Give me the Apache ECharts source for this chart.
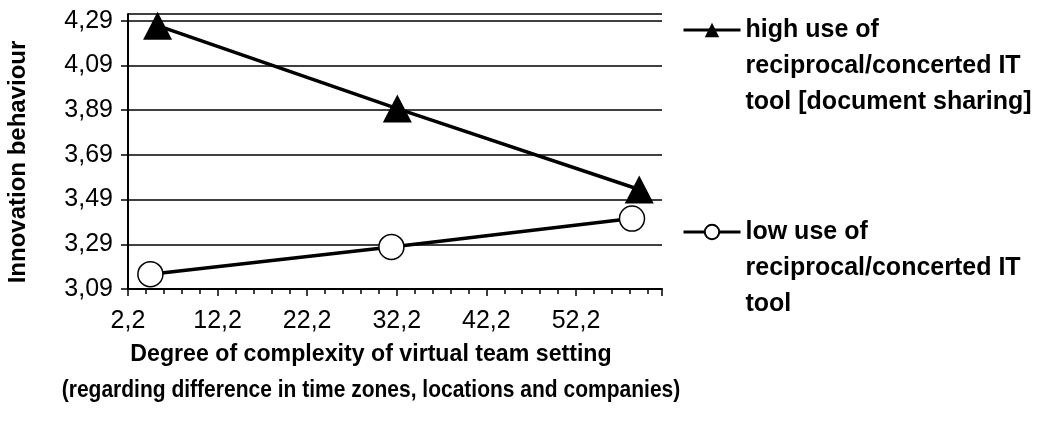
<!DOCTYPE html>
<html><head><meta charset="utf-8">
<script src="https://cdn.jsdelivr.net/npm/echarts@6/dist/echarts.min.js"></script>
<style>html,body{margin:0;padding:0;background:#fff}#c{width:1040px;height:421px}</style>
</head><body><div id="c"></div>
<script>
// data
const highX = [5.5, 32.26, 59.26];
const highY = [4.268, 3.897, 3.535];
const lowX = [4.7, 31.6, 58.45];
const lowY = [3.156, 3.278, 3.405];
const yTicks = [3.09, 3.29, 3.49, 3.69, 3.89, 4.09, 4.29];
const xTicks = [2.2, 12.2, 22.2, 32.2, 42.2, 52.2];
const seriesNames = ['high use of\nreciprocal/concerted IT\ntool [document sharing]',
                     'low use of\nreciprocal/concerted IT\ntool'];
const yTitle = 'Innovation behaviour';
const xTitle1 = 'Degree of complexity of virtual team setting';
const xTitle2 = '(regarding difference in time zones, locations and companies)';

const FONT = '"Liberation Sans", Arial, Helvetica, sans-serif';
const near = (v, arr) => arr.some(t => Math.abs(t - v) < 1e-6);
const fmt = (v, d) => v.toFixed(d).replace('.', ',');

const chart = echarts.init(document.getElementById('c'), null, {renderer: 'canvas'});
chart.setOption({
  animation: false,
  backgroundColor: '#fff',
  textStyle: {fontFamily: FONT, color: '#000'},
  grid: {left: 128, right: 378, top: 14, bottom: 132, containLabel: false, outerBoundsMode: 'none'},
  xAxis: {
    type: 'value', min: 2.2, max: 61.8, interval: 10,
    axisLine: {lineStyle: {color: '#000', width: 2}},
    axisTick: {show: true, length: 7, lineStyle: {color: '#000', width: 1.5}},
    minorTick: {show: true, splitNumber: 5, length: 5, lineStyle: {color: '#000', width: 1.5}},
    splitLine: {show: false},
    axisLabel: {
      margin: 20, fontSize: 25, color: '#000', fontFamily: FONT,
      formatter: v => near(v, xTicks) ? fmt(v, 1) : ''
    }
  },
  yAxis: [{
    type: 'value', min: 3.09, max: 4.32, interval: 0.2, position: 'left',
    axisLine: {show: true, lineStyle: {color: '#000', width: 2}},
    axisTick: {show: false},
    splitLine: {show: true, lineStyle: {color: '#000', width: 1.5}},
    axisLabel: {
      margin: 15, fontSize: 25, color: '#000', fontFamily: FONT,
      formatter: v => near(v, yTicks) ? fmt(v, 2) : ''
    }
  }, {
    type: 'value', min: 3.09, max: 4.32, interval: 0.2, position: 'left', offset: 0,
    axisLine: {show: false},
    axisTick: {show: true, length: 7, customValues: yTicks, lineStyle: {color: '#000', width: 1.5}},
    splitLine: {show: false},
    axisLabel: {show: false}
  }],
  legend: {
    orient: 'vertical', left: 677, top: -65, itemGap: 22,
    itemWidth: 57, itemHeight: 18, selectedMode: false,
    formatter: n => '\n\n' + n,
    lineStyle: {width: 3, color: '#000'},
    textStyle: {fontSize: 25, fontWeight: 'bold', lineHeight: 36, color: '#000', fontFamily: FONT, padding: [0,0,0,0]},
    data: seriesNames
  },
  graphic: [{
    type: 'text', x: 371, y: 354, scaleX: 0.965,
    style: {text: xTitle1, font: 'bold 24px ' + FONT, align: 'center', verticalAlign: 'middle', fill: '#000'}
  }, {
    type: 'text', x: 371, y: 390, scaleX: 0.875,
    style: {text: xTitle2, font: 'bold 24px ' + FONT, align: 'center', verticalAlign: 'middle', fill: '#000'}
  }, {
    type: 'text', x: 18, y: 162, rotation: Math.PI / 2,
    style: {text: yTitle, font: 'bold 24px ' + FONT, align: 'center', verticalAlign: 'middle', fill: '#000'}
  }],
  series: [{
    name: seriesNames[0], type: 'line', yAxisIndex: 0,
    data: highX.map((x, i) => [x, highY[i]]),
    symbol: 'triangle', symbolSize: [29, 28],
    lineStyle: {color: '#000', width: 3.5},
    itemStyle: {color: '#000'}, z: 3
  }, {
    name: seriesNames[1], type: 'line', yAxisIndex: 0,
    data: lowX.map((x, i) => [x, lowY[i]]),
    symbol: 'circle', symbolSize: 25,
    lineStyle: {color: '#000', width: 3.5},
    itemStyle: {color: '#fff', borderColor: '#000', borderWidth: 1.5}, z: 3
  }]
});
</script></body></html>
